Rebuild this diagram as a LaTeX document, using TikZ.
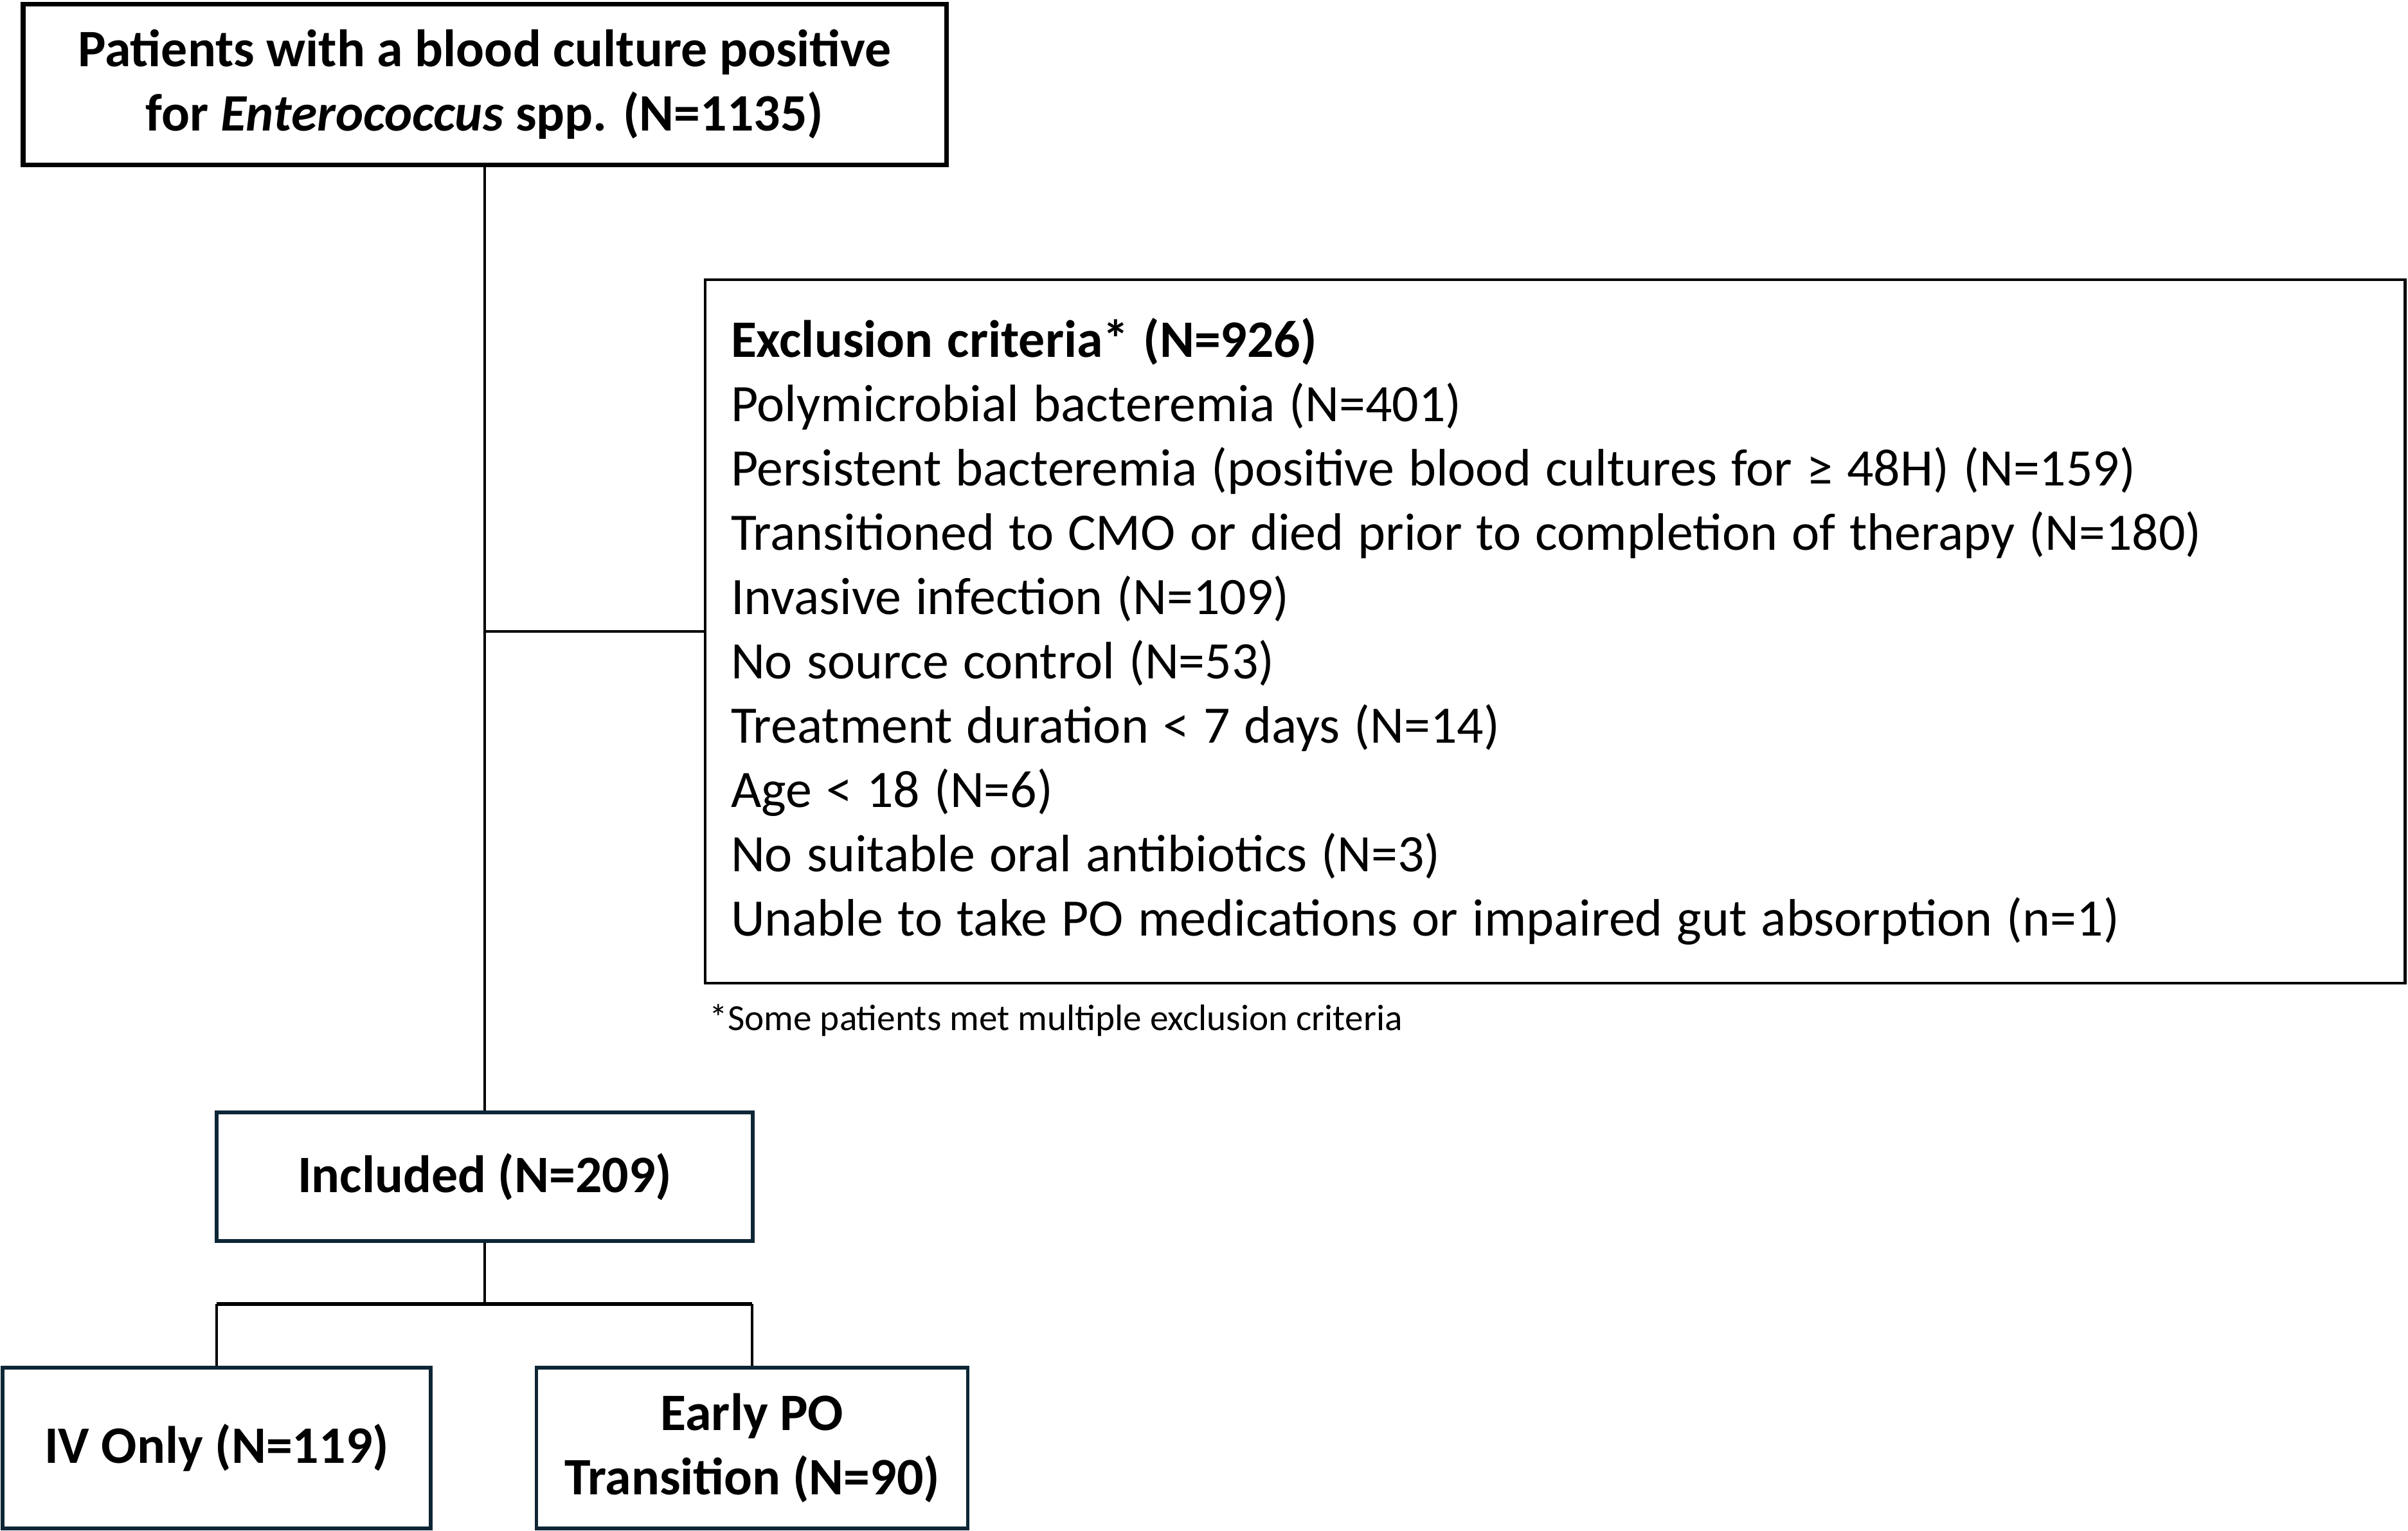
\documentclass[tikz,border=0pt]{standalone}
\usepackage{fontspec}
\setmainfont{Carlito}
\usepackage{tikz}
\usetikzlibrary{
  positioning,
  calc,
}
\definecolor{navy}{HTML}{0E2636}
\newcommand{\bodyfont}{\fontsize{23.3}{28.45}\selectfont}
\newcommand{\tightspace}{\spaceskip=0.27em plus 0.05em\xspaceskip=0.27em\relax}
\tikzset{
  meta box/.style={
    draw,
    black,
    align=center,
    font=\bodyfont\bfseries
  },
  top box/.style={
    meta box,
    line width=2pt,
    minimum width=14.36cm,
    minimum height=2.5cm
  },
  excl box/.style={
    draw,
    line width=1.4pt,
    align=left,
    text width=25.64cm,
    inner xsep=0.4cm,
    minimum height=10.94cm,
    font=\bodyfont
  },
  arm box/.style={
    meta box,
    draw=navy,
    line width=1.5pt,
    minimum height=2.5cm
  },
  link/.style={
    line width=1.1pt
  },
  split line/.style={
    line width=1.8pt
  }
}

\begin{document}
\begin{tikzpicture}
  \useasboundingbox (0,0) rectangle (37.46,-23.8);

  \node[top box] (cohort) at (7.54,-1.31)
    {Patients with a blood culture positive\\ for \textit{Enterococcus} spp. (N=1135)};
  \node[excl box] (excl) at (24.19,-9.82)
    {\tightspace\textbf{Exclusion criteria* (N=926)}\\
     Polymicrobial bacteremia (N=401)\\
     Persistent bacteremia (positive blood cultures for ≥ 48H) (N=159)\\
     Transitioned to CMO or died prior to completion of therapy (N=180)\\
     Invasive infection (N=109)\\
     No source control (N=53)\\
     Treatment duration < 7 days (N=14)\\
     Age < 18 (N=6)\\
     No suitable oral antibiotics (N=3)\\
     Unable to take PO medications or impaired gut absorption (n=1)};
  \node[anchor=west, font=\fontsize{16.3}{19}\selectfont, inner sep=0pt] (note) at (11.03,-15.87)
    {*Some patients met multiple exclusion criteria};
  \node[arm box, minimum width=8.34cm, minimum height=2.0cm] (incl) at (7.54,-18.30) {Included (N=209)};
  \node[arm box, minimum width=6.66cm] (iv) at (3.37,-22.52) {IV Only (N=119)};
  \node[arm box, minimum width=6.71cm] (po) at (11.70,-22.52) {Early PO\\ Transition (N=90)};
  \coordinate (split) at (7.54,-20.28);

  % trunk and exclusion arm
  \draw[link] (cohort.south) -- (incl.north);
  \draw[link] (excl.west) -- (excl.west -| cohort.south);
  % split into the two arms
  \draw[link] (incl.south) -- (split);
  \draw[split line] (split -| iv.north) -- (split -| po.north);
  \draw[link] (split -| iv.north) -- (iv.north);
  \draw[link] (split -| po.north) -- (po.north);
\end{tikzpicture}
\end{document}
